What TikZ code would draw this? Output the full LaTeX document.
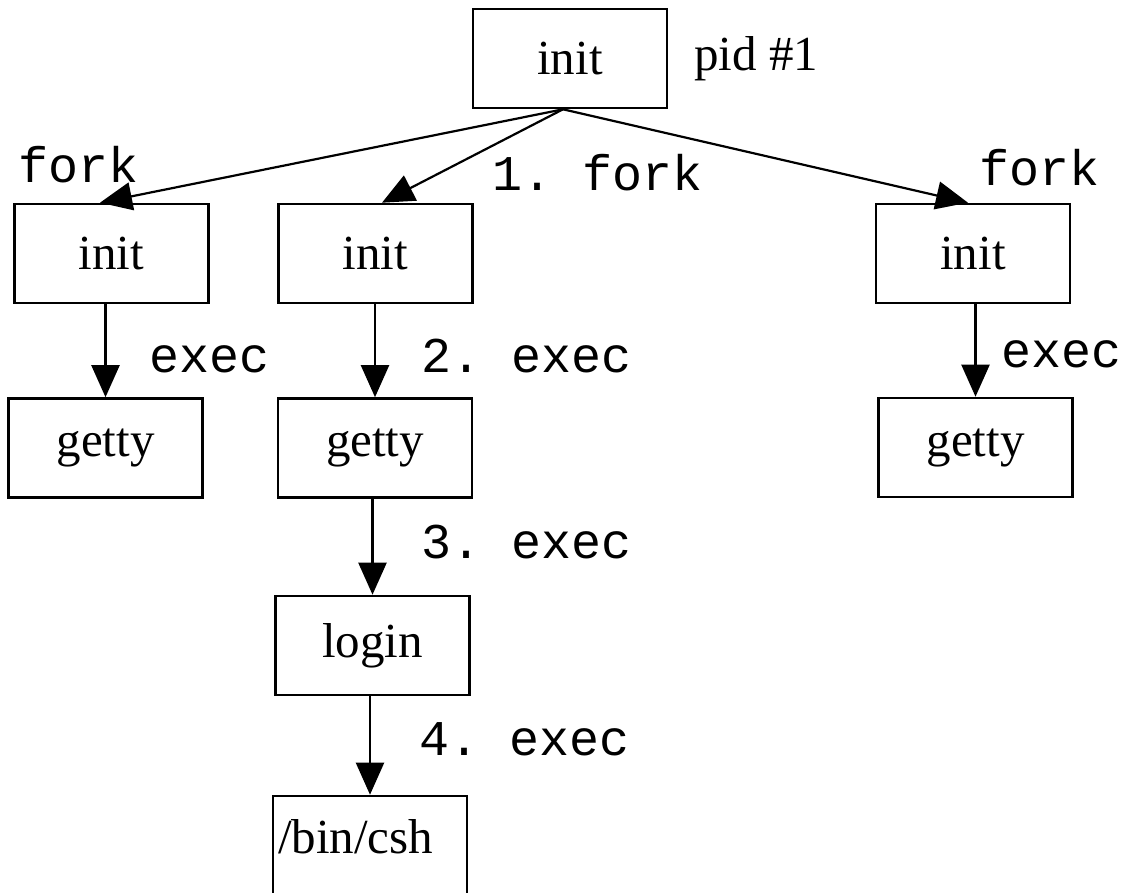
\documentclass[tikz,border=0pt]{standalone}
\usepackage{fontspec}
\setmainfont{Liberation Serif}
\setmonofont{Liberation Mono}
\usetikzlibrary{arrows.meta}
\begin{document}
\begin{tikzpicture}[x=1pt,y=-1pt,
  box/.style={draw, line width=2.6pt, minimum width=194pt, minimum height=99pt, inner sep=0pt, font=\fontsize{49}{58}\selectfont},
  lbl/.style={anchor=base west, inner sep=0pt, font=\ttfamily\fontsize{50}{60}\selectfont},
  serlbl/.style={anchor=base west, inner sep=0pt, font=\fontsize{49}{58}\selectfont},
  arr/.style={line width=2.2pt, -{Triangle[length=32pt,width=28pt]}}]
\clip (0,0) rectangle (1123,892);
\fill[white] (0,0) rectangle (1123,892);
% nodes
\node[box] (top) at (570,58.5) {init};
\node[box] (li) at (111.5,253.5) {init};
\node[box] (mi) at (375.5,253.5) {init};
\node[box] (ri) at (973,253.5) {init};
\node[box] (lg) at (105.5,448) {getty};
\node[box] (mg) at (375,448) {getty};
\node[box] (rg) at (975.5,447.5) {getty};
\node[box] (lo) at (372.5,645.5) {login};
\node[box, text width=184pt, align=left, inner xsep=5pt, text height=30pt, text depth=15pt] (csh) at (370,845.5) {/bin/csh};
% labels
\node[serlbl] (pid) at (694,70) {pid \#1};
\node[lbl] (f1) at (18,182) {fork};
\node[lbl] (f2) at (492,190) {1. fork};
\node[lbl] (f3) at (979,185) {fork};
\node[lbl] (e1) at (149,372) {exec};
\node[lbl] (e2) at (421,372) {2. exec};
\node[lbl] (e3) at (1001,367) {exec};
\node[lbl] (e4) at (421,558) {3. exec};
\node[lbl] (e5) at (419,755) {4. exec};
% connectors
\draw[arr] ([xshift=-7pt]top.south) -- ([xshift=-11.5pt]li.north);
\draw[arr] ([xshift=-7pt]top.south) -- ([xshift=6.5pt]mi.north);
\draw[arr] ([xshift=-7pt]top.south) -- ([xshift=-5pt]ri.north);
\draw[arr] (lg.north |- li.south) -- (lg.north);
\draw[arr] (mg.north |- mi.south) -- (mg.north);
\draw[arr] (rg.north |- ri.south) -- (rg.north);
\draw[arr] (lo.north |- mg.south) -- (lo.north);
\draw[arr] (csh.north |- lo.south) -- (csh.north);
\end{tikzpicture}
\end{document}
